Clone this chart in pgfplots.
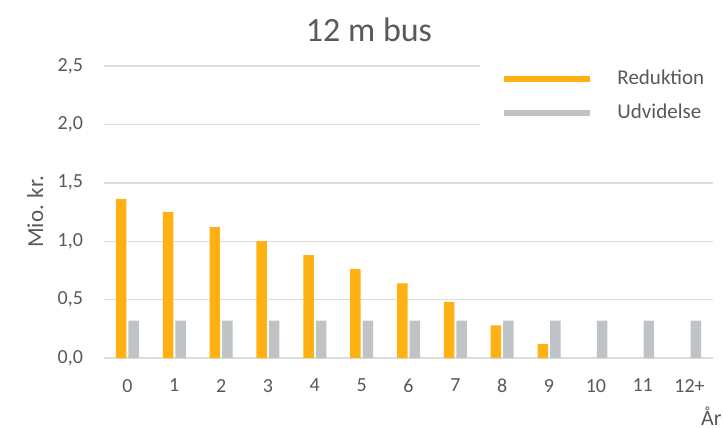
\documentclass[border=0pt]{standalone}
\usepackage{fontspec}
\setmainfont{Carlito}
\usepackage{pgfplots}
\pgfplotsset{compat=1.18}

\definecolor{reduk}{HTML}{FFB114}
\definecolor{udvid}{HTML}{BFC3C5}
\definecolor{txt}{HTML}{595959}
\definecolor{gridc}{HTML}{DDDDDD}

\begin{document}
\begin{tikzpicture}
\begin{axis}[
    at={(52pt,-179pt)}, anchor=south west,
    scale only axis,
    width=304.5pt, height=146pt,
    xmin=-0.5, xmax=12.5,
    ymin=0, ymax=2.5,
    ytick={0,0.5,...,2.5},
    xtick={0,...,12},
    xticklabels={0,1,2,3,4,5,6,7,8,9,10,11,12+},
    ymajorgrids,
    grid style={gridc, line width=0.7pt},
    axis line style={draw=none},
    major tick style={draw=none},
    yticklabel style={/pgf/number format/.cd, fixed, fixed zerofill, precision=1, use comma, assume math mode=true},
    yticklabel shift=7pt,
    xticklabel shift=7pt,
    tick label style={font=\fontsize{10}{12}\selectfont, text=txt},
    ylabel={Mio. kr.},
    ylabel style={at={(axis description cs:-0.113,0.5)}, anchor=center, font=\fontsize{11.5}{13}\selectfont, text=txt},
    clip=false,
    legend image code/.code={\draw[#1] (0pt,0pt) -- (43pt,0pt);},
    legend style={at={(axis description cs:0.652,1.0)}, anchor=north west,
        draw=none, fill=none, inner sep=0pt, row sep=4pt,
        font=\fontsize{10.5}{12}\selectfont, text=txt,
        /tikz/every odd column/.append style={column sep=10pt}},
    legend cell align=left,
]
\fill[white] (rel axis cs:0.617,0.78) rectangle (rel axis cs:1.0,1.03);
\addlegendimage{reduk, line width=3pt}
\addlegendimage{udvid, line width=3pt}
\addplot[ybar, bar width=5.25pt, bar shift=-3.125pt, fill=reduk, draw=none, forget plot] coordinates {
    (0,1.36) (1,1.25) (2,1.12) (3,1.00) (4,0.88) (5,0.76) (6,0.64) (7,0.48) (8,0.28) (9,0.12)
};
\addplot[ybar, bar width=5.25pt, bar shift=3.125pt, fill=udvid, draw=none, forget plot] coordinates {
    (0,0.32) (1,0.32) (2,0.32) (3,0.32) (4,0.32) (5,0.32) (6,0.32) (7,0.32) (8,0.32) (9,0.32) (10,0.32) (11,0.32) (12,0.32)
};
\legend{Reduktion, Udvidelse}
\end{axis}
\node[text=txt, font=\fontsize{17}{20}\selectfont] at (184.5pt,-15pt) {12 m bus};
\node[text=txt, font=\fontsize{11}{13}\selectfont, anchor=north east, inner sep=0pt] at (361pt,-203pt) {År};
\pgfresetboundingbox
\path[use as bounding box] (0,0) rectangle (361.5pt,-214pt);
\end{tikzpicture}
\end{document}
